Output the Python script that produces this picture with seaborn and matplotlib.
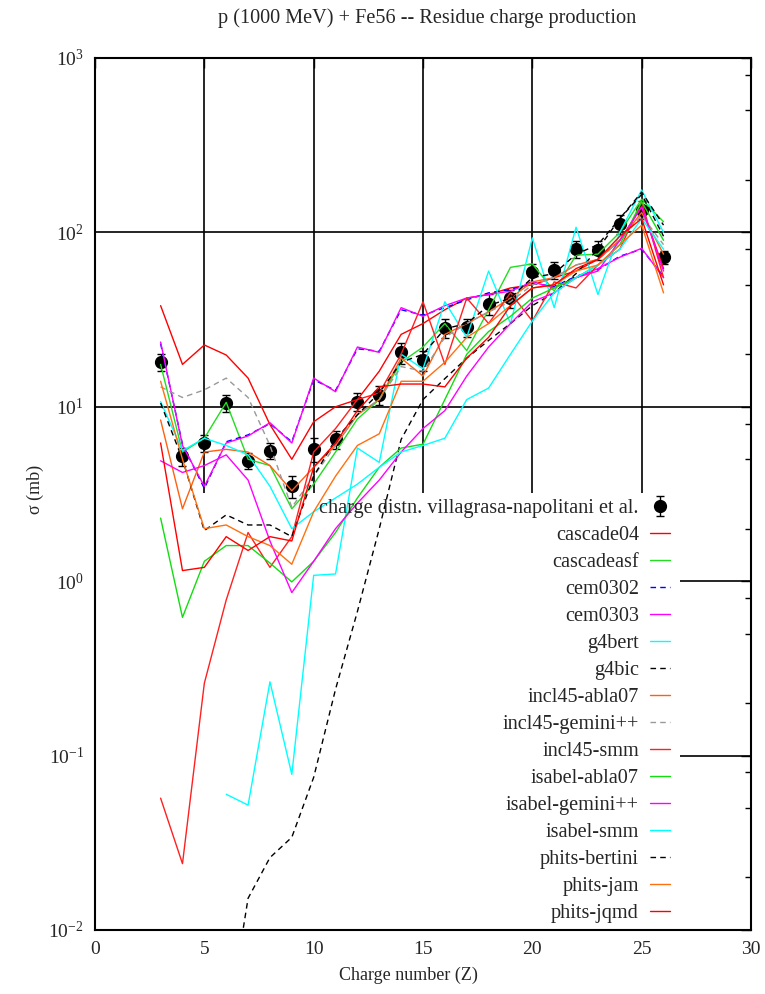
"""
p (1000 MeV) + Fe56 residue charge production: data vs. model comparison
"""
import numpy as np
import pandas as pd
import seaborn as sns
import matplotlib.pyplot as plt
from matplotlib.lines import Line2D
from matplotlib.ticker import FixedLocator, LogLocator, NullFormatter

# charge number Z = 3 .. 26
charge = list(range(3, 27))

# experimental data (villagrasa-napolitani et al.)
exp_sigma = [18, 5.2, 6.2, 10.5, 4.9, 5.6, 3.5, 5.7, 6.5, 10.7, 11.7, 20.5,
             18.5, 28.3, 28.5, 39, 42, 59, 61, 80, 79, 112, 135, 72]
exp_err = [2.0, 0.6, 0.7, 1.2, 0.5, 0.6, 0.5, 0.9, 0.8, 1.3, 1.4, 2.8,
           2.4, 3.5, 3.5, 5.5, 5.0, 7.0, 7.0, 9.0, 10, 14, 16, 6]

nan = np.nan
cascade04 = [38, 17.5, 22.6, 19.8, 14.6, 7.9, 5.0, 8.2, 10.0, 11, 16, 26,
             30, 36, 42, 44, 48, 50, 55, 60, 70, 90, 140, 62]
cascadeasf = [17.5, 5.5, 6.6, 10.6, 5.0, 4.6, 2.6, 3.6, 5.5, 8.5, 11, 18,
              22, 30, 21, 36, 63, 66, 46, 74, 75, 100, 155, 115]
cem0302 = [23, 6.1, 3.4, 6.3, 6.9, 8.0, 6.3, 14.3, 12.4, 21.5, 20.8, 36,
           33.5, 37, 41, 45, 47, 51, 49, 56, 61, 73, 80, 56]
cem0303 = [23.5, 6.0, 3.5, 6.2, 6.8, 8.1, 6.2, 14.6, 12.2, 22, 20.5, 37,
           33, 38, 42, 44, 46, 52, 48, 55, 62, 72, 81, 55]
g4bert = [nan, nan, nan, 0.06, 0.052, 0.265, 0.078, 1.08, 1.1, 5.8, 4.8, 20,
          16.5, 40, 25, 60, 30, 93, 37, 107, 44, 100, 175, 100]
g4bic = [nan, nan, nan, 0.0025, 0.0152, 0.026, 0.034, 0.075, 0.24, 0.67, 2.0, 6.5,
         11, 14.5, 19, 24, 30, 38, 45, 58, 80, 120, 170, 110]
incl45_abla07 = [8.4, 2.6, 5.5, 5.7, 5.5, 4.6, 3.3, 4.5, 6.0, 9.0, 11, 19,
                 15, 26, 30, 35, 42, 52, 55, 65, 70, 90, 130, 75]
incl45_gemini = [13, 11.3, 12.5, 14.6, 11.3, 6.0, 2.65, 4.0, 6.0, 9.0, 11, 17,
                 16, 25, 30, 35, 40, 50, 55, 65, 70, 90, 125, 85]
incl45_smm = [0.057, 0.024, 0.26, 0.78, 1.9, 1.2, 1.8, 5.5, 7.5, 11, 12, 20,
              40, 17.5, 42, 30, 45, 31, 52, 48, 65, 80, 150, 55]
isabel_abla07 = [2.3, 0.62, 1.3, 1.6, 1.6, 1.27, 0.99, 1.3, 1.9, 3.0, 4.5, 5.8,
                 6.1, 11, 20, 27, 33, 42, 48, 55, 65, 85, 150, 90]
isabel_gemini = [4.9, 4.2, 4.6, 5.3, 3.8, 1.7, 0.86, 1.3, 2.0, 2.8, 3.8, 5.5,
                 7.5, 9.5, 15, 22, 30, 40, 45, 55, 60, 90, 140, 60]
isabel_smm = [10.7, 5.6, 6.6, 6.0, 5.3, 3.5, 2.0, 2.5, 3.0, 3.6, 4.5, 5.5,
              6.0, 6.6, 11, 12.8, 20, 31, 45, 55, 65, 80, 120, 80]
phits_bertini = [10.5, 5.0, 1.95, 2.4, 2.1, 2.1, 1.8, 4.0, 6.5, 9.0, 12, 18,
                 20, 28, 30, 38, 42, 55, 58, 75, 85, 120, 165, 95]
phits_jam = [14, 5.0, 2.0, 2.1, 1.8, 1.6, 1.25, 2.5, 4.0, 6.0, 7.0, 14,
             14, 18, 25, 30, 38, 48, 50, 60, 65, 85, 110, 45]
phits_jqmd = [6.2, 1.15, 1.2, 1.8, 1.5, 1.8, 1.7, 4.5, 6.2, 9.5, 13, 13.5,
              13.5, 13, 19, 25, 38, 48, 50, 62, 70, 95, 120, 50]

MODELS = {
    "cascade04": cascade04,
    "cascadeasf": cascadeasf,
    "cem0302": cem0302,
    "cem0303": cem0303,
    "g4bert": g4bert,
    "g4bic": g4bic,
    "incl45-abla07": incl45_abla07,
    "incl45-gemini++": incl45_gemini,
    "incl45-smm": incl45_smm,
    "isabel-abla07": isabel_abla07,
    "isabel-gemini++": isabel_gemini,
    "isabel-smm": isabel_smm,
    "phits-bertini": phits_bertini,
    "phits-jam": phits_jam,
    "phits-jqmd": phits_jqmd,
}

MODEL_COLORS = {
    "cascade04": "#ff0000",
    "cascadeasf": "#22dd22",
    "cem0302": "#0000ff",
    "cem0303": "#ff00ff",
    "g4bert": "#00ffff",
    "g4bic": "#000000",
    "incl45-abla07": "#ff6010",
    "incl45-gemini++": "#999999",
    "incl45-smm": "#ff2020",
    "isabel-abla07": "#11dd11",
    "isabel-gemini++": "#ff00ff",
    "isabel-smm": "#00ffff",
    "phits-bertini": "#000000",
    "phits-jam": "#ff7010",
    "phits-jqmd": "#ff0000",
}

DASHED = {"cem0302", "g4bic", "incl45-gemini++", "phits-bertini"}
MODEL_DASHES = {m: ((4, 3) if m in DASHED else "") for m in MODELS}

# long-form table for seaborn
frames = []
for name, values in MODELS.items():
    frames.append(pd.DataFrame({"Z": charge, "sigma": values, "model": name}))
df = pd.concat(frames).dropna()

sns.set_theme(style="white")
plt.rcParams["font.family"] = ["Liberation Serif", "DejaVu Serif"]
plt.rcParams["mathtext.fontset"] = "custom"
plt.rcParams["mathtext.rm"] = "Liberation Serif"

fig = plt.figure(figsize=(7.65, 9.94), dpi=100)
ax = fig.add_axes([0.1242, 0.0644, 0.8575, 0.8773])

# grid (clipped by the key area, like gnuplot)
ax.vlines([5, 10, 15, 20, 25], 3.2, 1000, color="black", lw=1.2, zorder=1)
ax.hlines([10, 100], 0, 30, color="black", lw=1.2, zorder=1)
ax.hlines([0.1, 1], 26.75, 30, color="black", lw=1.2, zorder=1)

exp = ax.errorbar(charge, exp_sigma, yerr=exp_err, fmt="o", color="black",
                  markersize=8.5, capsize=3, elinewidth=1, zorder=2)

sns.lineplot(
    data=df, x="Z", y="sigma", hue="model", style="model",
    hue_order=list(MODELS), style_order=list(MODELS),
    palette=MODEL_COLORS, dashes=MODEL_DASHES,
    estimator=None, sort=False, linewidth=1.0, legend=False, ax=ax, zorder=3,
)

ax.set_yscale("log")
ax.set_xlim(0, 30)
ax.set_ylim(0.01, 1000)

ax.xaxis.set_major_locator(FixedLocator([0, 5, 10, 15, 20, 25, 30]))
ax.yaxis.set_major_locator(FixedLocator([1e-2, 1e-1, 1, 10, 100, 1000]))
ax.set_yticklabels([r"$\mathregular{10^{%d}}$" % e for e in range(-2, 4)])
ax.yaxis.set_minor_locator(LogLocator(base=10, subs=[2, 5, 8]))
ax.yaxis.set_minor_formatter(NullFormatter())
ax.tick_params(which="both", direction="in", top=True, right=True,
               color="black", width=1)
ax.tick_params(which="major", length=7, labelsize=14, pad=8)
ax.tick_params(which="minor", length=4)
for s in ax.spines.values():
    s.set_color("black")
    s.set_linewidth(1.5)

ax.set_xlabel("Charge number (Z)", fontsize=13)
ax.set_ylabel("σ (mb)", fontsize=13)
ax.xaxis.set_label_coords(0.478, -0.042)
ax.yaxis.set_label_coords(-0.078, 0.505)

fig.text(427 / 765, 1 - 18 / 994, "p (1000 MeV) + Fe56 -- Residue charge production",
         ha="center", va="center", fontsize=14.6)

handles = [exp] + [
    Line2D([], [], color=MODEL_COLORS[m], lw=1.0,
           linestyle=(0, (4, 3)) if m in DASHED else "-")
    for m in MODELS
]
labels = ["charge distn. villagrasa-napolitani et al."] + list(MODELS)
ax.legend(handles, labels, loc="upper right", bbox_to_anchor=(0.877, 0.494),
          frameon=False, markerfirst=False, fontsize=14.6, handlelength=1.0,
          handletextpad=0.55, labelspacing=0.385, borderpad=0, borderaxespad=0)

fig.savefig("out.png", dpi=100)
